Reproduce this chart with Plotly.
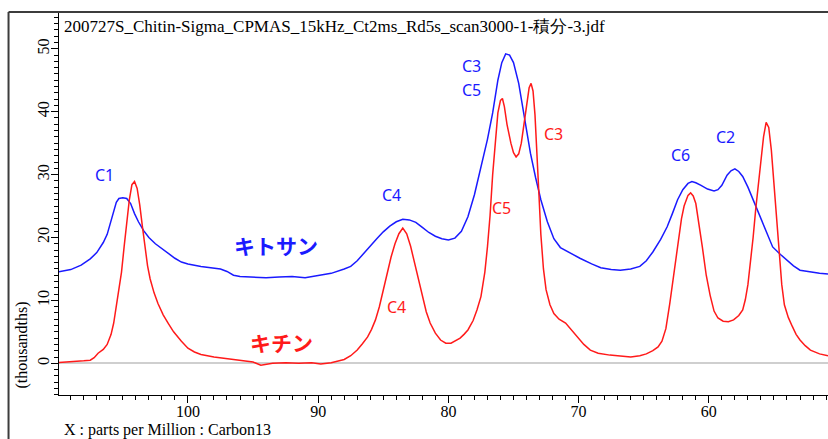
import plotly.graph_objects as go

# ---------------- data ----------------
chitosan_ppm = [110.0, 109.0, 108.2, 107.5, 107.0, 106.5, 106.2, 105.9, 105.7, 105.5, 105.3, 105.0,
                104.7, 104.4, 104.1, 103.8, 103.4, 103.0, 102.5, 102.0, 101.5, 101.0, 100.5, 100.0,
                99.0, 98.0, 97.5, 97.0, 96.5, 96.0, 95.0, 94.0, 93.0, 92.0, 91.0, 90.0, 89.0, 88.0,
                87.5, 87.0, 86.5, 86.0, 85.5, 85.0, 84.5, 84.0, 83.5, 83.0, 82.5, 82.0, 81.5, 81.0,
                80.5, 80.0, 79.5, 79.0, 78.5, 78.0, 77.5, 77.0, 76.6, 76.2, 75.9, 75.6, 75.3, 75.0,
                74.6, 74.3, 74.0, 73.7, 73.3, 72.9, 72.4, 71.9, 71.4, 70.5, 69.9, 69.0, 68.3, 67.5,
                66.8, 66.0, 65.3, 64.8, 64.3, 63.7, 63.2, 62.8, 62.4, 62.0, 61.6, 61.3, 61.0, 60.6,
                60.1, 59.6, 59.3, 59.0, 58.6, 58.3, 58.0, 57.7, 57.4, 57.0, 56.6, 56.2, 55.8, 55.4,
                55.1, 54.5, 54.0, 53.5, 53.0, 52.5, 52.0, 51.5, 50.85]
chitosan_int = [14.5, 14.9, 15.6, 16.6, 17.6, 19.2, 20.5, 22.6, 24.2, 25.6, 26.2, 26.3,
                26.2, 25.4, 23.8, 22.5, 21.1, 20.0, 19.0, 18.2, 17.5, 16.7, 16.1, 15.8,
                15.4, 15.1, 15.0, 14.6, 14.0, 13.8, 13.7, 13.6, 13.7, 13.8, 13.6, 13.9, 14.3, 15.0,
                15.4, 16.3, 17.5, 18.6, 19.8, 20.9, 21.8, 22.5, 22.9, 22.8, 22.4, 21.6, 20.8, 20.2,
                19.8, 19.6, 19.9, 21.0, 23.3, 26.8, 31.0, 35.6, 39.8, 45.0, 47.8, 49.2, 49.0, 47.8,
                44.5, 40.8, 37.0, 33.4, 29.5, 26.0, 22.5, 19.8, 18.4, 17.3, 16.7, 15.8, 15.2, 14.9,
                14.8, 15.0, 15.4, 16.3, 17.7, 19.7, 21.7, 23.8, 26.0, 27.6, 28.6, 28.9, 28.7, 28.3,
                27.7, 27.4, 27.6, 28.3, 29.9, 30.6, 30.9, 30.5, 29.7, 28.0, 26.0, 23.8, 21.7, 19.8,
                18.5, 17.3, 16.4, 15.5, 14.8, 14.6, 14.4, 14.3, 14.2]

chitin_ppm = [110.0, 109.0, 108.5, 108.0, 107.5, 107.2, 106.9, 106.5, 106.2, 105.9, 105.7, 105.5,
              105.3, 105.1, 104.9, 104.7, 104.5, 104.3, 104.1, 103.9, 103.7, 103.5, 103.3, 103.1,
              102.9, 102.6, 102.3, 101.9, 101.5, 101.1, 100.5, 100.0, 99.5, 99.0, 98.0, 97.0, 96.0,
              95.0, 94.4, 93.5, 92.5, 91.5, 90.5, 89.8, 89.0, 88.5, 88.0, 87.5, 87.0, 86.6, 86.2,
              85.9, 85.6, 85.3, 85.0, 84.7, 84.4, 84.1, 83.8, 83.5, 83.2, 82.9, 82.6, 82.3, 82.0,
              81.7, 81.4, 81.0, 80.6, 80.2, 79.8, 79.4, 79.1, 78.8, 78.5, 78.1, 77.8, 77.5, 77.2,
              77.0, 76.8, 76.6, 76.4, 76.2, 76.0, 75.85, 75.7, 75.5, 75.2, 75.0, 74.8, 74.6, 74.4,
              74.2, 74.0, 73.8, 73.65, 73.5, 73.35, 73.2, 73.05, 72.9, 72.7, 72.5, 72.2, 71.9,
              71.5, 71.0, 70.6, 70.2, 69.6, 69.1, 68.5, 67.6, 66.8, 66.0, 65.3, 64.8, 64.3, 63.9,
              63.6, 63.3, 63.0, 62.7, 62.4, 62.1, 61.9, 61.6, 61.4, 61.2, 61.0, 60.8, 60.5, 60.2,
              59.9, 59.6, 59.3, 58.9, 58.5, 58.1, 57.7, 57.4, 57.2, 57.0, 56.8, 56.6, 56.4, 56.2,
              56.0, 55.8, 55.6, 55.4, 55.2, 55.0, 54.8, 54.6, 54.4, 54.2, 53.9, 53.6, 53.3, 53.0,
              52.6, 52.2, 51.8, 51.5, 50.85]
chitin_int = [0.1, 0.2, 0.3, 0.4, 0.5, 0.9, 1.6, 2.2, 3.0, 4.6, 6.4, 9.0,
              11.8, 14.5, 18.5, 22.5, 26.0, 28.4, 28.9, 27.8, 25.2, 21.8, 18.3, 15.5,
              13.4, 11.2, 9.5, 7.7, 6.3, 5.0, 3.5, 2.4, 1.8, 1.4, 1.0, 0.7, 0.5,
              0.2, -0.3, 0.0, 0.1, 0.0, 0.1, -0.1, 0.1, 0.3, 0.6, 1.2, 2.1, 3.1, 4.2,
              5.4, 6.9, 9.0, 11.7, 14.4, 16.9, 19.0, 20.6, 21.5, 20.6, 18.6, 16.0, 13.2, 10.3,
              8.2, 6.4, 4.8, 3.7, 3.2, 3.2, 3.6, 4.0, 4.6, 5.3, 6.8, 8.5, 10.6, 14.5,
              18.5, 23.5, 30.0, 35.5, 39.8, 41.8, 42.1, 40.8, 38.0, 35.0, 33.5, 32.8, 33.3, 35.0,
              38.0, 41.3, 43.8, 44.5, 43.3, 39.5, 33.9, 27.0, 20.5, 15.0, 11.7, 9.3, 7.9,
              7.0, 6.4, 5.4, 4.5, 3.0, 2.1, 1.6, 1.3, 1.1, 1.0, 1.2, 1.5, 2.0, 2.6,
              3.5, 5.5, 9.5, 14.0, 19.1, 23.0, 25.0, 26.7, 27.1, 26.6, 25.4, 22.8, 18.5, 14.0,
              10.8, 8.3, 7.2, 6.7, 6.6, 6.9, 7.6, 8.5, 10.1, 12.5, 16.0, 20.0, 24.5, 28.5,
              32.5, 36.0, 38.3, 37.5, 33.9, 28.5, 22.5, 18.0, 12.5, 9.3, 7.3, 5.9, 4.6, 3.7,
              2.8, 2.1, 1.7, 1.5, 1.2]

# peak labels: (text, ppm, intensity)
blue_labels = [("C1", 106.4, 30.0), ("C4", 84.4, 26.8), ("C3", 78.2, 47.3), ("C5", 78.2, 43.5),
               ("C6", 62.2, 33.1), ("C2", 58.7, 36.0)]
red_labels = [("C3", 71.9, 36.4), ("C5", 75.9, 24.7), ("C4", 84.0, 8.9)]
series_labels = [("キトサン", 93.2, 18.8, "blue"), ("キチン", 92.8, 3.4, "red")]

title_text = "200727S_Chitin-Sigma_CPMAS_15kHz_Ct2ms_Rd5s_scan3000-1-積分-3.jdf"
x_title = "X : parts per Million : Carbon13"
y_title = "(thousandths)"

SERIF = "Liberation Serif"
BLUE = "#1a1aff"
RED = "#ff1a1a"

# ---------------- figure ----------------
W, H = 828, 439
L, R, T, B = 58.5, 0, 12, 44
pw, ph = W - L - R, H - T - B

def px(x):
    return (x - L) / pw

def py(y):
    return (H - B - y) / ph

fig = go.Figure()
fig.add_trace(go.Scatter(x=chitosan_ppm, y=chitosan_int, mode="lines",
                         line=dict(color=BLUE, width=1.5), hoverinfo="skip"))
fig.add_trace(go.Scatter(x=chitin_ppm, y=chitin_int, mode="lines",
                         line=dict(color=RED, width=1.5), hoverinfo="skip"))

annotations = []
for t, xv, yv in blue_labels:
    annotations.append(dict(x=xv, y=yv, xref="x", yref="y", text=t, showarrow=False,
                            font=dict(family="Noto Sans", size=16, color=BLUE)))
for t, xv, yv in red_labels:
    annotations.append(dict(x=xv, y=yv, xref="x", yref="y", text=t, showarrow=False,
                            font=dict(family="Noto Sans", size=16, color=RED)))
for t, xv, yv, c in series_labels:
    annotations.append(dict(x=xv, y=yv, xref="x", yref="y", text="<b>" + t + "</b>", showarrow=False,
                            font=dict(family="Noto Sans CJK JP", size=21,
                                      color=BLUE if c == "blue" else RED)))

annotations.append(dict(x=px(62), y=py(27), xref="paper", yref="paper", text=title_text,
                        showarrow=False, xanchor="left", yanchor="middle",
                        font=dict(family=SERIF, size=17, color="black")))
annotations.append(dict(x=px(62), y=py(430), xref="paper", yref="paper", text=x_title,
                        showarrow=False, xanchor="left", yanchor="middle",
                        font=dict(family=SERIF, size=16, color="black")))
annotations.append(dict(x=px(21), y=py(345), xref="paper", yref="paper", text=y_title,
                        showarrow=False, xanchor="center", yanchor="middle", textangle=-90,
                        font=dict(family=SERIF, size=16, color="black")))

shapes = [
    dict(type="line", xref="paper", yref="paper", x0=px(8), x1=px(W + 5), y0=py(12), y1=py(12),
         line=dict(color="#3c3c3c", width=2)),
    dict(type="line", xref="paper", yref="paper", x0=px(8), x1=px(8), y0=py(12), y1=py(H + 5),
         line=dict(color="#3c3c3c", width=2)),
]

fig.update_layout(
    width=W, height=H,
    margin=dict(l=L, r=R, t=T, b=B, pad=0),
    paper_bgcolor="white", plot_bgcolor="white",
    showlegend=False,
    annotations=annotations,
    shapes=shapes,
    xaxis=dict(range=[109.9, 50.85], showgrid=False, zeroline=False,
               showline=True, linecolor="black", linewidth=1,
               ticks="outside", ticklen=7, tickcolor="black", tick0=0, dtick=10,
               ticklabelstandoff=-5,
               minor=dict(ticks="outside", ticklen=4, tickcolor="black", dtick=1),
               tickfont=dict(family=SERIF, size=16, color="black")),
    yaxis=dict(range=[-5.04, 55.85], showgrid=False,
               zeroline=True, zerolinecolor="#cfcfcf", zerolinewidth=2,
               showline=True, linecolor="black", linewidth=1,
               ticks="outside", ticklen=7, tickcolor="black", tick0=0, dtick=10,
               ticklabelstandoff=-4,
               minor=dict(ticks="outside", ticklen=4, tickcolor="black", dtick=1),
               tickangle=-90,
               tickfont=dict(family=SERIF, size=16, color="black")),
)

fig.write_html("out.html")
